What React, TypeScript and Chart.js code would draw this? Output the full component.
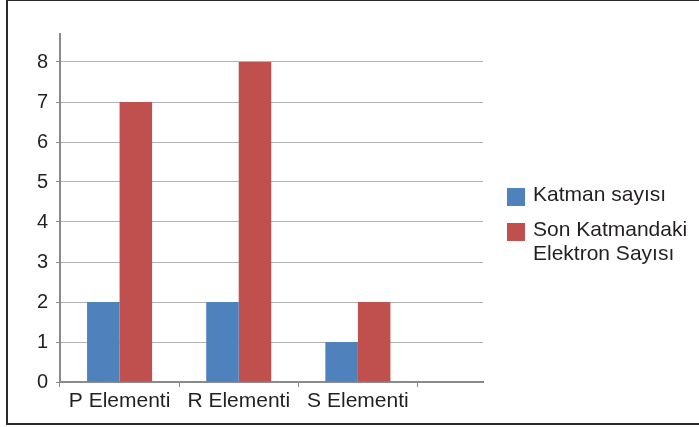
import React, { useEffect, useRef } from 'react';
import { Chart, registerables, CategoryScale } from 'chart.js';

const categories = ['P Elementi', 'R Elementi', 'S Elementi'];
const katmanSayisi = [2, 2, 1];
const sonKatmandakiElektron = [7, 8, 2];
const seriesLabels = ['Katman sayısı', 'Son Katmandaki Elektron Sayısı'];
const legendLines = [['Katman sayısı'], ['Son Katmandaki', 'Elektron Sayısı']];
const seriesColors = ['#4F81BD', '#C0504D'];
const yTickValues = [0, 1, 2, 3, 4, 5, 6, 7, 8];
const yMax = 8.7;
const extraCategoryRoom = 0.55;

class ExtendedCategoryScale extends CategoryScale {
  static id = 'extendedCategory';
  static defaults = CategoryScale.defaults;
  buildTicks() {
    const t = super.buildTicks();
    (this as any)._valueRange += extraCategoryRoom;
    return t;
  }
}

Chart.register(...registerables, ExtendedCategoryScale);

const FONT = "'Liberation Sans', Arial, sans-serif";

export default function App() {
  const canvasRef = useRef<HTMLCanvasElement | null>(null);

  useEffect(() => {
    document.body.style.margin = '0';
    const ctx = canvasRef.current!.getContext('2d')!;
    const chart = new Chart(ctx, {
      type: 'bar',
      data: {
        labels: categories,
        datasets: [
          {
            label: seriesLabels[0],
            data: katmanSayisi,
            backgroundColor: seriesColors[0],
            borderWidth: 0,
            barPercentage: 1,
            categoryPercentage: 0.546,
          },
          {
            label: seriesLabels[1],
            data: sonKatmandakiElektron,
            backgroundColor: seriesColors[1],
            borderWidth: 0,
            barPercentage: 1,
            categoryPercentage: 0.546,
          },
        ],
      },
      options: {
        responsive: false,
        animation: false,
        devicePixelRatio: 1,
        layout: { padding: { top: 34, right: 216, bottom: 0, left: 0 } },
        plugins: {
          legend: { display: false },
          tooltip: { enabled: false },
          title: { display: false },
        },
        scales: {
          x: {
            type: 'extendedCategory' as any,
            offset: true,
            grid: {
              offset: true,
              drawOnChartArea: false,
              drawTicks: true,
              tickLength: 5,
              color: '#8a8a8a',
              lineWidth: 1,
            },
            border: { display: true, color: '#8a8a8a', width: 2 },
            ticks: {
              font: { family: FONT, size: 21 },
              color: '#231f20',
              padding: 2,
              maxRotation: 0,
              autoSkip: false,
            },
            afterFit: (s: any) => {
              s.height = 45;
            },
          },
          y: {
            min: 0,
            max: yMax,
            afterBuildTicks: (s: any) => {
              s.ticks = yTickValues.map((v) => ({ value: v }));
            },
            grid: {
              color: '#b3b3b3',
              lineWidth: 1,
              tickLength: 4,
              drawTicks: true,
              tickColor: '#8a8a8a',
            },
            border: { display: true, color: '#8a8a8a', width: 2 },
            ticks: {
              font: { family: FONT, size: 20 },
              color: '#231f20',
              padding: 8,
            },
            afterFit: (s: any) => {
              s.width = 60;
            },
          },
        },
      },
    });
    return () => chart.destroy();
  }, []);

  return (
    <div
      style={{
        position: 'fixed',
        left: 0,
        top: 0,
        width: 699,
        height: 427,
        overflow: 'hidden',
        background: '#fff',
      }}
    >
      <canvas ref={canvasRef} width={699} height={427} style={{ position: 'absolute', left: 0, top: 0 }} />
      <div
        style={{
          position: 'absolute',
          left: 6,
          top: -1,
          width: 800,
          height: 426,
          boxSizing: 'border-box',
          border: '2px solid #2b2b2b',
          pointerEvents: 'none',
        }}
      />
      <div style={{ position: 'absolute', left: 507, top: 182, fontFamily: FONT, fontSize: 21, color: '#231f20', lineHeight: '24px' }}>
        {legendLines.map((lines, i) => (
          <div key={i} style={{ position: 'relative', paddingLeft: 26, marginBottom: 11 }}>
            <span
              style={{
                position: 'absolute',
                left: 0,
                top: 6,
                width: 18,
                height: 18,
                background: seriesColors[i],
              }}
            />
            {lines.map((t, j) => (
              <div key={j}>{t}</div>
            ))}
          </div>
        ))}
      </div>
    </div>
  );
}
